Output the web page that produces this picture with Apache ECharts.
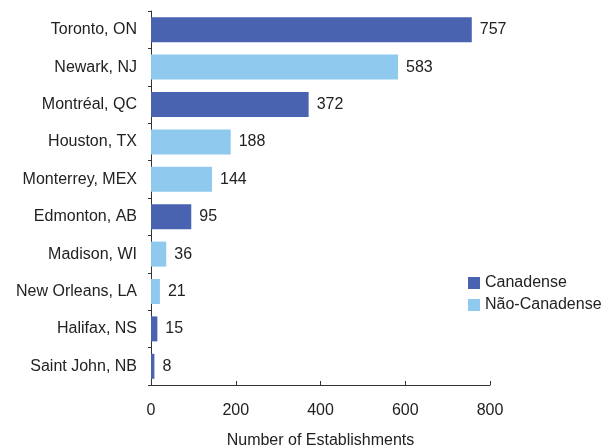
<!DOCTYPE html>
<html>
<head>
<meta charset="utf-8">
<script src="https://cdn.jsdelivr.net/npm/echarts@6/dist/echarts.min.js"></script>
<style>
  html, body { margin: 0; padding: 0; background: #fff; }
  #main { width: 612px; height: 448px; }
</style>
</head>
<body>
<div id="main"></div>
<script>
// cities, top to bottom
const cities = ['Toronto, ON', 'Newark, NJ', 'Montréal, QC', 'Houston, TX', 'Monterrey, MEX',
  'Edmonton, AB', 'Madison, WI', 'New Orleans, LA', 'Halifax, NS', 'Saint John, NB'];
// '-' where the city belongs to the other group
const canadense = [757, '-', 372, '-', '-', 95, '-', '-', 15, 8];
const naoCanadense = ['-', 583, '-', 188, 144, '-', 36, 21, '-', '-'];

const darkBlue = '#4a63b0';
const lightBlue = '#8fc9ee';
const font = 'Liberation Sans, Arial, sans-serif';

const chart = echarts.init(document.getElementById('main'));

const barLabel = {
  show: true,
  position: 'right',
  distance: 8,
  color: '#222',
  fontSize: 16,
  fontFamily: font
};

chart.setOption({
  animation: false,
  textStyle: { fontFamily: font },
  legend: {
    orient: 'vertical',
    left: 463,
    top: 270,
    itemWidth: 12,
    itemHeight: 12,
    itemGap: 6,
    icon: 'rect',
    textStyle: { fontSize: 16, color: '#222', fontFamily: font },
    data: ['Canadense', 'Não-Canadense']
  },
  grid: { left: 151, right: 122, top: 11, bottom: 63, containLabel: false, outerBoundsMode: 'none' },
  xAxis: {
    type: 'value',
    min: 0,
    max: 800,
    interval: 200,
    name: 'Number of Establishments',
    nameLocation: 'middle',
    nameGap: 48,
    nameTextStyle: { fontSize: 16, color: '#222' },
    splitLine: { show: false },
    axisLine: { show: true, lineStyle: { color: '#333', width: 1 } },
    axisTick: { show: true, inside: true, length: 4, lineStyle: { color: '#333' } },
    axisLabel: { fontSize: 16, color: '#222', margin: 18 }
  },
  yAxis: {
    type: 'category',
    inverse: true,
    data: cities,
    axisLine: { show: true, lineStyle: { color: '#333', width: 1 } },
    axisTick: { show: true, length: 3, lineStyle: { color: '#333' } },
    axisLabel: { fontSize: 16, color: '#222', margin: 14 }
  },
  series: [
    {
      name: 'Canadense',
      type: 'bar',
      stack: 'all',
      barWidth: 25,
      itemStyle: { color: darkBlue },
      label: barLabel,
      data: canadense
    },
    {
      name: 'Não-Canadense',
      type: 'bar',
      stack: 'all',
      barWidth: 25,
      itemStyle: { color: lightBlue },
      label: barLabel,
      data: naoCanadense
    }
  ]
});
</script>
</body>
</html>
